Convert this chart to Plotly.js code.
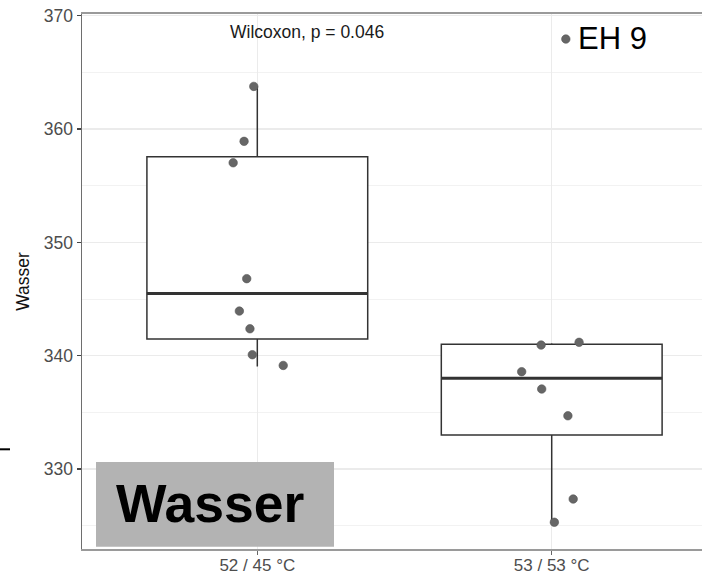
<!DOCTYPE html>
<html>
<head>
<meta charset="utf-8">
<script src="https://cdn.plot.ly/plotly-3.0.1.min.js"></script>
<style>
  html, body { margin: 0; padding: 0; background: #ffffff; }
  #chart { width: 702px; height: 576px; }
</style>
</head>
<body>
<div id="chart"></div>
<script>
// Treatment groups (x categories)
const groups = ["52 / 45 °C", "53 / 53 °C"];

// Measured values per group
const valuesA = [363.78, 358.95, 357.10, 346.93, 344.07, 341.97, 340.00, 339.05];
const valuesB = [341.10, 340.97, 338.80, 337.20, 334.88, 327.35, 325.15, 367.95];

// Jitter offsets of the plotted points (x in category units, y in data units)
const jitterXA = [-0.012, -0.045, -0.082, -0.036, -0.061, -0.025, -0.017, 0.088];
const jitterYA = [-0.01, -0.03, -0.07, -0.13, -0.13, 0.41, 0.09, 0.09];
const jitterXB = [0.093, -0.036, -0.102, -0.034, 0.055, 0.073, 0.009, 0.048];
const jitterYB = [0.08, -0.03, -0.21, -0.14, -0.18, 0.00, 0.15, 0.00];

// Point labels (only the flagged sample is named)
const pointLabelsA = ["", "", "", "", "", "", "", ""];
const pointLabelsB = ["", "", "", "", "", "", "", "EH 9"];

const testLabel = "Wilcoxon, p = 0.046";
const panelLabel = "Wasser";
const yTitle = "Wasser";

// ---- styling / geometry ----
const FONT = "Liberation Sans, Arial, Helvetica, sans-serif";
const W = 702, H = 576;
const M = { l: 82, r: 0, t: 14, b: 27 };
const pw = W - M.l - M.r, ph = H - M.t - M.b;
const px = x => (x - M.l) / pw;          // page pixel -> paper x
const py = y => (H - M.b - y) / ph;      // page pixel -> paper y
const BOX_W = 0.75;

// R-style (type 7) quantile
function quantile(arr, p) {
  const s = [...arr].sort((a, b) => a - b);
  const h = (s.length - 1) * p;
  const lo = Math.floor(h);
  const hi = Math.min(lo + 1, s.length - 1);
  return s[lo] + (h - lo) * (s[hi] - s[lo]);
}

// Tukey box statistics: whiskers reach the most extreme value within 1.5 IQR
function boxStats(arr) {
  const q1 = quantile(arr, 0.25), med = quantile(arr, 0.5), q3 = quantile(arr, 0.75);
  const iqr = q3 - q1;
  const inside = arr.filter(v => v >= q1 - 1.5 * iqr && v <= q3 + 1.5 * iqr);
  return { q1, med, q3, lo: Math.min(...inside), hi: Math.max(...inside) };
}

const series = [
  { vals: valuesA, jx: jitterXA, jy: jitterYA, labels: pointLabelsA },
  { vals: valuesB, jx: jitterXB, jy: jitterYB, labels: pointLabelsB }
];

const traces = [];

// Boxes
series.forEach((s, i) => {
  const st = boxStats(s.vals);
  traces.push({
    type: "box",
    x: [i],
    q1: [st.q1], median: [st.med], q3: [st.q3],
    lowerfence: [st.lo], upperfence: [st.hi],
    width: BOX_W,
    boxpoints: false,
    whiskerwidth: 0,
    fillcolor: "#ffffff",
    line: { color: "#333333", width: 1.5 },
    hoverinfo: "skip",
    showlegend: false
  });
});

// Thicker median bars
series.forEach((s, i) => {
  const med = quantile(s.vals, 0.5);
  traces.push({
    type: "scatter",
    mode: "lines",
    x: [i - BOX_W / 2, i + BOX_W / 2],
    y: [med, med],
    line: { color: "#333333", width: 3 },
    hoverinfo: "skip",
    showlegend: false
  });
});

// Jittered sample points
const labelAnnotations = [];
series.forEach((s, i) => {
  const xs = s.vals.map((v, k) => i + s.jx[k]);
  const ys = s.vals.map((v, k) => v + s.jy[k]);
  traces.push({
    type: "scatter",
    mode: "markers",
    x: xs,
    y: ys,
    marker: { size: 8.5, color: "#666666", line: { color: "#555555", width: 0.6 } },
    hoverinfo: "skip",
    showlegend: false,
    cliponaxis: false
  });
  s.labels.forEach((lab, k) => {
    if (!lab) return;
    labelAnnotations.push({
      text: lab, xref: "x", yref: "y", x: xs[k], y: ys[k],
      xanchor: "left", yanchor: "middle", xshift: 10, yshift: 1,
      showarrow: false, font: { family: FONT, size: 31, color: "#000000" }
    });
  });
});

const layout = {
  width: W,
  height: H,
  margin: M,
  paper_bgcolor: "#ffffff",
  plot_bgcolor: "#ffffff",
  font: { family: FONT, color: "#4d4d4d" },
  showlegend: false,
  xaxis: {
    range: [-0.5955, 1.5105],
    tickmode: "array",
    tickvals: [0, 1],
    ticktext: groups,
    showgrid: true,
    gridcolor: "#ebebeb",
    gridwidth: 1.3,
    zeroline: false,
    showline: true,
    linecolor: "#9a9a9a",
    linewidth: 1.6,
    mirror: true,
    ticks: "outside",
    ticklen: 4,
    tickcolor: "#666666",
    tickwidth: 1.3,
    ticklabelstandoff: -4,
    tickfont: { family: FONT, size: 17, color: "#4d4d4d" },
    automargin: false,
    fixedrange: true
  },
  yaxis: {
    range: [322.94, 370.16],
    tick0: 0,
    dtick: 10,
    showgrid: true,
    gridcolor: "#ebebeb",
    gridwidth: 1.3,
    minor: { dtick: 5, tick0: 0, showgrid: true, gridcolor: "#f2f2f2", gridwidth: 1 },
    zeroline: false,
    showline: true,
    linecolor: "#6e6e6e",
    linewidth: 1.5,
    ticks: "outside",
    ticklen: 4,
    tickcolor: "#444444",
    tickwidth: 1.3,
    tickfont: { family: FONT, size: 17.5, color: "#4d4d4d" },
    title: { text: yTitle, font: { family: FONT, size: 17.5, color: "#111111" }, standoff: 9 },
    automargin: false,
    fixedrange: true
  },
  shapes: [
    // grey backing of the panel label
    {
      type: "rect", xref: "paper", yref: "paper", layer: "above",
      x0: px(96), x1: px(334), y0: py(546.7), y1: py(462),
      fillcolor: "#b3b3b3", line: { width: 0 }
    },
    // short dash at the left edge
    {
      type: "line", xref: "paper", yref: "paper", layer: "above",
      x0: px(0), x1: px(10), y0: py(449.3), y1: py(449.3),
      line: { color: "#000000", width: 2 }
    }
  ],
  annotations: [
    {
      text: testLabel, xref: "paper", yref: "paper",
      x: px(306.7), y: py(31.7), xanchor: "center", yanchor: "middle",
      showarrow: false, font: { family: FONT, size: 17.5, color: "#1a1a1a" }
    },
    {
      text: "<b>" + panelLabel + "</b>", xref: "paper", yref: "paper",
      x: px(114), y: py(503.3), xanchor: "left", yanchor: "middle",
      showarrow: false, font: { family: FONT, size: 53.5, color: "#000000" }
    }
  ].concat(labelAnnotations)
};

Plotly.newPlot("chart", traces, layout, { staticPlot: true, displayModeBar: false });
</script>
</body>
</html>
